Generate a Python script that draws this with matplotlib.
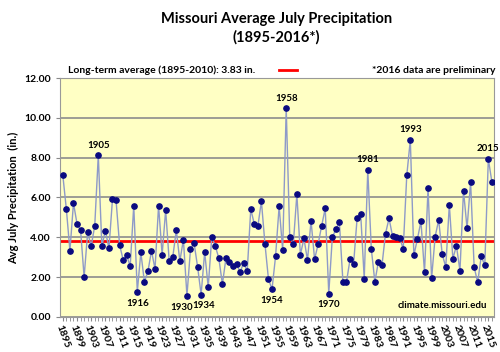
import matplotlib.pyplot as plt
from matplotlib.ticker import MultipleLocator

plt.rcParams['font.family'] = ['Lato', 'DejaVu Sans']

# Дані
years = list(range(1895, 2017))
precip = [7.11, 5.40, 3.32, 5.72, 4.68, 4.36, 2.00, 4.24, 3.56, 4.58,
          8.12, 3.56, 4.33, 3.44, 5.91, 5.87, 3.62, 2.87, 3.09, 2.55,
          5.59, 1.26, 3.24, 1.76, 2.28, 3.32, 2.40, 5.59, 3.12, 5.37,
          2.80, 3.00, 4.35, 2.80, 3.88, 1.06, 3.39, 3.72, 2.52, 1.12,
          3.26, 1.49, 4.01, 3.56, 2.94, 1.64, 2.94, 2.75, 2.53, 2.65,
          2.25, 2.72, 2.28, 5.42, 4.66, 4.55, 5.81, 3.67, 1.88, 1.39,
          3.05, 5.55, 3.36, 10.49, 3.99, 3.66, 6.16, 3.12, 3.94, 2.85,
          4.83, 2.89, 3.66, 4.58, 5.45, 1.17, 3.99, 4.40, 4.75, 1.74,
          1.76, 2.89, 2.65, 4.98, 5.18, 1.91, 7.38, 3.41, 1.76, 2.77,
          2.58, 4.18, 4.95, 4.04, 3.99, 3.96, 3.42, 7.11, 8.89, 3.09,
          3.91, 4.80, 2.23, 6.46, 1.93, 4.03, 4.87, 3.14, 2.50, 5.64,
          2.92, 3.57, 2.32, 6.34, 4.45, 6.78, 2.50, 1.73, 3.05, 2.58,
          7.94, 6.78]
avg = 3.83
labels_above = [1905, 1958, 1981, 1993, 2015]
labels_below = [1916, 1930, 1934, 1954, 1970]

fig = plt.figure(figsize=(5, 3.52), dpi=100)
ax = fig.add_axes([0.12, 0.1, 0.868, 0.678])
ax.set_facecolor('#FFFFC4')

ax.plot(years, precip, color='#8E9AC8', linewidth=1, zorder=3)
ax.plot(years, precip, 'o', color='#0A0A80', markersize=3.8, zorder=4)
ax.axhline(avg, color='#FF0000', linewidth=2, zorder=2)

for y, v in zip(years, precip):
    dx = -4 if y == 1930 else (2 if y == 1934 else 0)
    if y in labels_above:
        ax.annotate(str(y), (y, v), xytext=(dx, 4), textcoords='offset points',
                    ha='center', va='bottom', fontsize=7, fontweight='bold')
    elif y in labels_below:
        ax.annotate(str(y), (y, v), xytext=(dx, -5), textcoords='offset points',
                    ha='center', va='top', fontsize=7, fontweight='bold')

ax.set_xlim(1894.2, 2016.6)
ax.set_ylim(0, 12)
ax.yaxis.set_major_locator(MultipleLocator(2))
ax.yaxis.set_major_formatter(lambda v, p: f'{v:.2f}')
ax.grid(axis='y', color='#8C8C8C', linewidth=1.2, zorder=1)
ax.set_xticks(years[::4])
ax.set_xticklabels([str(y) for y in years[::4]], rotation=-70, ha='left',
                   rotation_mode='anchor', fontsize=7.5, fontweight='bold')
ax.xaxis.set_minor_locator(MultipleLocator(1))
ax.tick_params(axis='x', which='both', length=3, color='#888888', pad=2)
ax.tick_params(axis='y', length=3, color='#888888', labelsize=7.5)
for lbl in ax.get_yticklabels():
    lbl.set_fontweight('bold')
for s in ax.spines.values():
    s.set_color('#999999')

ax.set_ylabel('Avg July Precipitation  (in.)', fontsize=8, fontweight='bold')

fig.text(0.553, 0.92, 'Missouri Average July Precipitation\n(1895-2016*)',
         ha='center', va='center', fontsize=10.5, fontweight='bold',
         linespacing=1.3)
fig.text(0.135, 0.8, 'Long-term average (1895-2010): 3.83 in.',
         fontsize=7.5, fontweight='bold', va='center')
fig.lines.append(plt.Line2D([0.558, 0.594], [0.8, 0.8], color='#FF0000',
                            linewidth=2, transform=fig.transFigure))
fig.text(0.99, 0.8, '*2016 data are preliminary', fontsize=7.5,
         fontweight='bold', ha='right', va='center')
ax.text(0.985, 0.03, 'climate.missouri.edu', transform=ax.transAxes,
        ha='right', va='bottom', fontsize=7, fontweight='bold')

fig.savefig('out.png', dpi=100, facecolor='white')
